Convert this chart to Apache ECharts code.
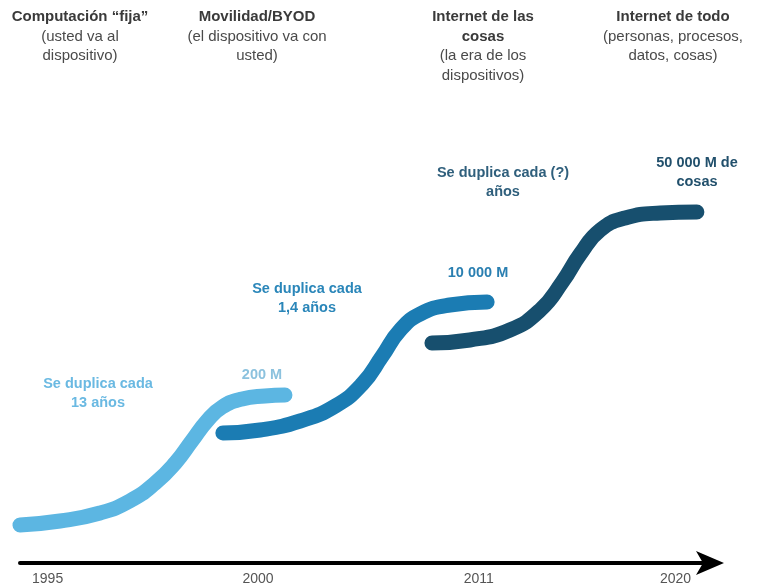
<!DOCTYPE html>
<html>
<head>
<meta charset="utf-8">
<script src="https://cdn.jsdelivr.net/npm/echarts@6/dist/echarts.min.js"></script>
<style>
	html, body { margin: 0; padding: 0; background: #fff; }
	#main { width: 772px; height: 588px; }
</style>
</head>
<body>
<div id="main"></div>
<script>
// timeline ticks
const years = ['1995', '2000', '2011', '2020'];
const yearTicks = [4, 34.5, 66.5, 95];

// the three S curves, [position, level]
const fixedCurve = [[0, 7.6], [5.8, 8.4], [11.6, 10], [15.9, 12.4], [19.6, 16], [22.5, 20], [24.9, 24.4], [27.1, 28.4], [29.3, 31.2], [32.2, 32.8], [35.5, 33.4], [38.4, 33.6]];
const mobileCurve = [[29.4, 26], [34.8, 26.6], [40.6, 28.4], [45.7, 31.4], [49.6, 35.8], [52.5, 41.4], [55.1, 46.6], [58, 49.8], [62.3, 51.6], [67.7, 52.2]];
const iotCurve = [[59.7, 44], [65.2, 44.6], [71, 46.6], [75.4, 50.6], [78.6, 56.2], [81.2, 61.8], [84.1, 66.6], [87.7, 69], [92.8, 70], [98.1, 70.2]];

const colors = ['#5cb6e2', '#1b7cb3', '#174f6e'];

// era headers
const headers = [
	{ x: 80, lines: ['Computación “fija”'], sub: ['(usted va al', 'dispositivo)'] },
	{ x: 257, lines: ['Movilidad/BYOD'], sub: ['(el dispositivo va con', 'usted)'] },
	{ x: 483, lines: ['Internet de las', 'cosas'], sub: ['(la era de los', 'dispositivos)'] },
	{ x: 673, lines: ['Internet de todo'], sub: ['(personas, procesos,', 'datos, cosas)'] },
];

// annotations next to curves
const notes = [
	{ x: 98, y: 393, text: 'Se duplica cada\n13 años', color: '#6ab9e2' },
	{ x: 262, y: 375, text: '200 M', color: '#8cc2de' },
	{ x: 307, y: 298, text: 'Se duplica cada\n1,4 años', color: '#2a86b9' },
	{ x: 478, y: 273, text: '10 000 M', color: '#2a7fb1' },
	{ x: 503, y: 182, text: 'Se duplica cada (?)\naños', color: '#2f5f7c' },
	{ x: 697, y: 172, text: '50 000 M de\ncosas', color: '#22506c' },
];

const FONT = '"Liberation Sans", Arial, sans-serif';

function buildGraphic() {
	let g = [];
	headers.forEach(h => {
		let y = 17;
		h.lines.forEach(t => {
			g.push({ type: 'text', x: h.x, y: y, style: { text: t, font: 'bold 15px ' + FONT, fill: '#3a3a3a', textAlign: 'center', textVerticalAlign: 'middle' } });
			y += 19.5;
		});
		h.sub.forEach(t => {
			g.push({ type: 'text', x: h.x, y: y, style: { text: t, font: '15px ' + FONT, fill: '#4a4a4a', textAlign: 'center', textVerticalAlign: 'middle' } });
			y += 19.5;
		});
	});
	notes.forEach(n => {
		g.push({ type: 'text', x: n.x, y: n.y, style: { text: n.text, font: 'bold 14.5px ' + FONT, fill: n.color, textAlign: 'center', textVerticalAlign: 'middle', lineHeight: 19 } });
	});
	return g;
}

function curve(name, data, color) {
	return {
		name: name,
		type: 'line',
		data: data,
		smooth: 0.5,
		showSymbol: false,
		silent: true,
		lineStyle: { color: color, width: 15, cap: 'round', join: 'round' },
		z: 2
	};
}

const chart = echarts.init(document.getElementById('main'));
chart.setOption({
	animation: false,
	grid: { left: 20, right: 62, top: 63, bottom: 25 },
	xAxis: {
		type: 'value',
		min: 0,
		max: 100,
		splitLine: { show: false },
		axisTick: { show: false },
		axisLine: {
			onZero: false,
			symbol: ['none', 'arrow'],
			symbolSize: [18, 28],
			symbolOffset: [0, 14],
			lineStyle: { color: '#000', width: 4 }
		},
		axisLabel: {
			customValues: yearTicks,
			formatter: v => years[yearTicks.indexOf(v)] || '',
			color: '#555',
			fontSize: 14,
			fontFamily: FONT,
			margin: 9
		}
	},
	yAxis: {
		type: 'value',
		min: 0,
		max: 100,
		show: false
	},
	series: [
		curve('Computación fija', fixedCurve, colors[0]),
		curve('Movilidad/BYOD', mobileCurve, colors[1]),
		curve('Internet de las cosas', iotCurve, colors[2])
	],
	graphic: buildGraphic()
});
window.addEventListener('resize', () => {
	chart.resize();
});
</script>
</body>
</html>
